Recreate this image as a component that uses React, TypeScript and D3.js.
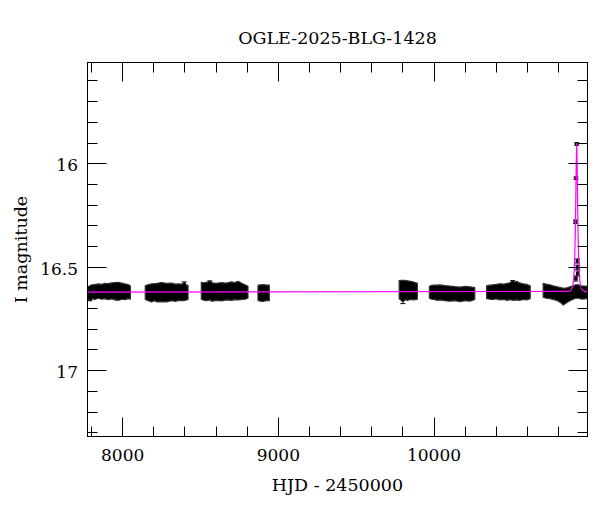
import React from 'react';
import * as d3 from 'd3';

// ---- data ----
const title = 'OGLE-2025-BLG-1428';
const xLabel = 'HJD - 2450000';
const yLabel = 'I magnitude';

const xMajorTicks = [8000, 9000, 10000];
const yMajorTicks = [16, 16.5, 17];
const yMajorLabels = ['16', '16.5', '17'];

// Observing seasons: [HJD, upper envelope mag, lower envelope mag]
const season1 = [[7776, 16.596, 16.648], [7790, 16.59, 16.654], [7801, 16.585, 16.652], [7820, 16.584, 16.656], [7843, 16.581, 16.65], [7865, 16.583, 16.655], [7886, 16.578, 16.652], [7905, 16.579, 16.657], [7929, 16.576, 16.653], [7950, 16.574, 16.658], [7972, 16.573, 16.66], [7995, 16.577, 16.655], [8015, 16.581, 16.657], [8035, 16.584, 16.652], [8050, 16.591, 16.654]];
const season2 = [[8145, 16.59, 16.656], [8165, 16.584, 16.662], [8186, 16.581, 16.668], [8205, 16.579, 16.662], [8220, 16.578, 16.668], [8250, 16.574, 16.666], [8280, 16.578, 16.668], [8315, 16.577, 16.662], [8340, 16.582, 16.665], [8360, 16.58, 16.66], [8395, 16.583, 16.662], [8420, 16.588, 16.656]];
const season3 = [[8505, 16.573, 16.655], [8522, 16.575, 16.66], [8540, 16.572, 16.662], [8560, 16.576, 16.658], [8572, 16.575, 16.665], [8600, 16.578, 16.66], [8636, 16.575, 16.663], [8665, 16.577, 16.658], [8700, 16.571, 16.66], [8720, 16.574, 16.657], [8742, 16.568, 16.658], [8765, 16.578, 16.656], [8785, 16.585, 16.655], [8805, 16.592, 16.65]];
const season4 = [[8869, 16.588, 16.66], [8885, 16.585, 16.664], [8905, 16.584, 16.665], [8925, 16.586, 16.66], [8942, 16.587, 16.662]];
const season5 = [[9776, 16.565, 16.652], [9790, 16.563, 16.66], [9810, 16.564, 16.657], [9830, 16.566, 16.66], [9850, 16.568, 16.656], [9870, 16.572, 16.658], [9893, 16.578, 16.655]];
const season6 = [[9970, 16.592, 16.65], [9985, 16.588, 16.655], [10000, 16.586, 16.656], [10020, 16.587, 16.66], [10038, 16.585, 16.658], [10070, 16.589, 16.662], [10102, 16.591, 16.664], [10135, 16.594, 16.662], [10166, 16.596, 16.666], [10200, 16.593, 16.662], [10231, 16.595, 16.664], [10262, 16.598, 16.656]];
const season7 = [[10338, 16.59, 16.652], [10360, 16.587, 16.655], [10380, 16.585, 16.656], [10400, 16.583, 16.653], [10423, 16.58, 16.658], [10450, 16.582, 16.656], [10470, 16.578, 16.66], [10488, 16.575, 16.657], [10510, 16.574, 16.66], [10531, 16.568, 16.658], [10550, 16.576, 16.66], [10573, 16.58, 16.656], [10595, 16.583, 16.658], [10618, 16.59, 16.652]];
const season8 = [[10701, 16.578, 16.645], [10720, 16.582, 16.65], [10744, 16.585, 16.652], [10765, 16.59, 16.656], [10787, 16.594, 16.66], [10800, 16.596, 16.666], [10815, 16.598, 16.672], [10830, 16.602, 16.683], [10852, 16.6, 16.672], [10873, 16.595, 16.662], [10895, 16.59, 16.655], [10910, 16.585, 16.65], [10925, 16.585, 16.65], [10950, 16.59, 16.654], [10985, 16.592, 16.652]];
const seasons = [season1, season2, season3, season4, season5, season6, season7, season8];

// Individual points with error bars (event and a few outliers)
const pointHJD = [10916.5, 10912.5, 10909, 10922, 10923, 10924, 10911, 8395, 9800, 10505, 7790, 8560];
const pointMag = [15.905, 16.07, 16.28, 16.47, 16.5, 16.53, 16.555, 16.583, 16.658, 16.575, 16.652, 16.576];
const pointErr = [0.006, 0.006, 0.008, 0.01, 0.01, 0.012, 0.012, 0.012, 0.018, 0.01, 0.01, 0.01];

// Model light curve (magenta)
const modelHJD = [7774, 10866.5, 10881.5, 10891.5, 10896.5, 10900.5, 10904.5, 10907.5, 10910.5, 10913.5, 10916.5, 10919.5, 10922.5, 10925.5, 10928.5, 10932.5, 10936.5, 10941.5, 10951.5, 10966.5, 10986];
const modelMag = [16.62, 16.617, 16.61, 16.59, 16.563, 16.521, 16.441, 16.339, 16.186, 16.003, 15.9, 16.003, 16.186, 16.339, 16.441, 16.521, 16.563, 16.59, 16.61, 16.617, 16.62];

const xDomain = [7774, 10986];
const yDomain = [15.511, 17.318];

const FONT = '"DejaVu Serif", serif';

export default function App() {
  const L = 87.5, R = 587.5, T = 62.5, B = 436.5;
  const x = d3.scaleLinear().domain(xDomain).range([L, R]);
  const y = d3.scaleLinear().domain(yDomain).range([T, B]);
  const px = (v: number) => Math.round(v - 0.5) + 0.5;

  const area = d3.area<number[]>().x(d => x(d[0])).y0(d => y(d[1])).y1(d => y(d[2]));
  const line = d3.line<number>().x((_, i) => x(modelHJD[i])).y(d => y(d));

  const xMinor = d3.range(7800, 10986, 200).filter(v => v % 1000 !== 0);
  const yMinor = d3.range(156, 174).map(v => v / 10).filter(v => !yMajorTicks.some(m => Math.abs(m - v) < 1e-6));

  const majorLen = 19, minorLen = 10;

  return (
    <svg width={600} height={512} style={{ position: 'absolute', left: 0, top: 0, background: '#fff' }}>
      <defs>
        <clipPath id="plot"><rect x={L} y={T} width={R - L} height={B - T} /></clipPath>
      </defs>
      <rect x={0} y={0} width={600} height={512} fill="#fff" />
      <g clipPath="url(#plot)">
        {seasons.map((s, i) => (
          <path key={i} d={area(s) || ''} fill="#000" stroke="#333" strokeWidth={1.2} strokeLinejoin="round" />
        ))}
        {pointHJD.map((h, i) => {
          const cx = x(h), cy = y(pointMag[i]);
          const y1 = y(pointMag[i] - pointErr[i]), y2 = y(pointMag[i] + pointErr[i]);
          return (
            <g key={i} stroke="#000" strokeWidth={1}>
              <line x1={cx} x2={cx} y1={y1} y2={y2} />
              <line x1={cx - 2.5} x2={cx + 2.5} y1={y1} y2={y1} />
              <line x1={cx - 2.5} x2={cx + 2.5} y1={y2} y2={y2} />
              <rect x={cx - 1.8} y={cy - 1.6} width={3.6} height={3.2} fill="#000" stroke="none" />
            </g>
          );
        })}
        <path d={line(modelMag) || ''} fill="none" stroke="#ff00ff" strokeWidth={1.2} />
      </g>
      {/* frame */}
      <rect x={L} y={T} width={R - L} height={B - T} fill="none" stroke="#000" strokeWidth={1} />
      {/* ticks */}
      <g stroke="#000" strokeWidth={1}>
        {xMajorTicks.map(v => (
          <g key={'xm' + v}>
            <line x1={px(x(v))} x2={px(x(v))} y1={B} y2={B - majorLen} />
            <line x1={px(x(v))} x2={px(x(v))} y1={T} y2={T + majorLen} />
          </g>
        ))}
        {xMinor.map(v => (
          <g key={'xn' + v}>
            <line x1={px(x(v))} x2={px(x(v))} y1={B} y2={B - minorLen} />
            <line x1={px(x(v))} x2={px(x(v))} y1={T} y2={T + minorLen} />
          </g>
        ))}
        {yMajorTicks.map(v => (
          <g key={'ym' + v}>
            <line x1={L} x2={L + majorLen} y1={px(y(v))} y2={px(y(v))} />
            <line x1={R} x2={R - majorLen} y1={px(y(v))} y2={px(y(v))} />
          </g>
        ))}
        {yMinor.map(v => (
          <g key={'yn' + v}>
            <line x1={L} x2={L + minorLen} y1={px(y(v))} y2={px(y(v))} />
            <line x1={R} x2={R - minorLen} y1={px(y(v))} y2={px(y(v))} />
          </g>
        ))}
      </g>
      {/* tick labels */}
      <g fontFamily={FONT} fontSize={17} fill="#000">
        {xMajorTicks.map(v => (
          <text key={'xl' + v} x={x(v)} y={461} textAnchor="middle">{v}</text>
        ))}
        {yMajorTicks.map((v, i) => (
          <text key={'yl' + v} x={78} y={y(v) + 7.5} textAnchor="end">{yMajorLabels[i]}</text>
        ))}
      </g>
      <text x={(L + R) / 2} y={44} textAnchor="middle" fontFamily={FONT} fontSize={17.5}>{title}</text>
      <text x={(L + R) / 2} y={491} textAnchor="middle" fontFamily={FONT} fontSize={17.5}>{xLabel}</text>
      <text transform={`translate(27,${(T + B) / 2}) rotate(-90)`} textAnchor="middle" fontFamily={FONT} fontSize={17.5}>{yLabel}</text>
    </svg>
  );
}
